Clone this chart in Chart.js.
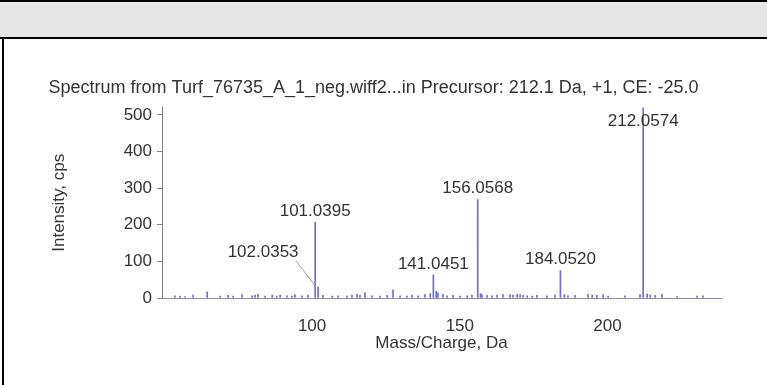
<!DOCTYPE html>
<html>
<head>
<meta charset="utf-8">
<title>Spectrum</title>
<script src="https://cdn.jsdelivr.net/npm/chart.js@4.4.1/dist/chart.umd.min.js"></script>
<style>
  html, body { margin: 0; padding: 0; background: #fff; }
  body { width: 767px; height: 385px; position: relative; overflow: hidden; }
  .topbar { position: absolute; left: 0; top: 0; width: 767px; height: 35px; background: #e6e6e6; border-top: 2px solid #000; border-bottom: 2px solid #000; }
  .leftrule { position: absolute; left: 2px; top: 39px; width: 2px; height: 346px; background: #000; }
  #wrap { position: absolute; left: 0; top: 0; width: 767px; height: 385px; }
</style>
</head>
<body>
<div class="topbar"></div>
<div class="leftrule"></div>
<div id="wrap"><canvas id="spectrum" width="767" height="385"></canvas></div>
<script>
var chartTitle = 'Spectrum from Turf_76735_A_1_neg.wiff2...in Precursor: 212.1 Da, +1, CE: -25.0';
var xTicks = [100, 150, 200];
var yTicks = [0, 100, 200, 300, 400, 500];

// labelled fragment peaks
var peakMasses = [101.0395, 102.0353, 141.0451, 156.0568, 184.0520, 212.0574];
var peakIntensities = [207, 30, 63, 269, 75, 520];
var peakNames = ['101.0395', '102.0353', '141.0451', '156.0568', '184.0520', '212.0574'];

// small baseline peaks
var noiseMasses = [
  53.6, 55.3, 57.0, 59.7, 64.5, 68.9, 71.6, 73.3, 76.3, 79.7,
  80.7, 81.7, 84.1, 86.5, 88.0, 89.2, 91.5, 93.2, 94.2, 96.6,
  98.6, 103.7, 106.8, 108.8, 111.8, 113.5, 115.2, 116.2, 117.9, 120.3,
  123.0, 125.4, 127.4, 129.8, 132.1, 133.8, 135.9, 138.2, 140.0, 142.0,
  142.6, 144.3, 145.7, 147.7, 150.1, 152.5, 154.1, 157.0, 157.5, 159.2,
  160.9, 162.6, 164.6, 167.0, 168.0, 169.4, 170.4, 171.4, 172.8, 174.5,
  176.1, 179.5, 182.2, 185.4, 186.6, 189.0, 193.4, 194.8, 196.4, 198.5,
  200.2, 205.9, 211.0, 213.4, 214.4, 216.1, 218.4, 223.5, 230.3, 232.3
];
var noiseIntensities = [
  6, 5, 4, 8, 17, 5, 7, 5, 9, 6,
  8, 10, 5, 7, 5, 8, 6, 5, 9, 6,
  8, 7, 5, 6, 5, 8, 10, 7, 14, 6,
  5, 7, 22, 6, 5, 8, 6, 9, 12, 18,
  14, 10, 6, 7, 5, 6, 8, 12, 9, 7,
  6, 8, 10, 9, 8, 10, 9, 7, 6, 5,
  7, 6, 8, 9, 6, 7, 10, 8, 7, 9,
  5, 6, 9, 11, 8, 7, 10, 4, 5, 6
];

var textColor = '#333333';
var fontFamily = '"Liberation Sans", Arial, sans-serif';

var points = [];
noiseMasses.forEach(function (m, i) { points.push({ x: m, y: noiseIntensities[i] }); });
peakMasses.forEach(function (m, i) { points.push({ x: m, y: peakIntensities[i] }); });

// where a label would collide with its neighbour it is moved aside and tied back with a leader
var labelShift = { '102.0353': { dx: -55, dy: -24 } };

var peakLabelPlugin = {
  id: 'peakLabels',
  afterDatasetsDraw: function (chart) {
    var ctx = chart.ctx, xs = chart.scales.x, ys = chart.scales.y, area = chart.chartArea;
    ctx.save();
    ctx.font = '17px ' + fontFamily;
    ctx.fillStyle = textColor;
    ctx.textAlign = 'center';
    ctx.textBaseline = 'middle';
    peakMasses.forEach(function (m, i) {
      var px = xs.getPixelForValue(m);
      var top = ys.getPixelForValue(peakIntensities[i]);
      var ly = Math.max(top - 11, area.top + 14);
      var lx = px;
      var shift = labelShift[peakNames[i]];
      if (shift) {
        lx = px + shift.dx;
        ly = top - 11 + shift.dy;
        ctx.strokeStyle = '#999999';
        ctx.lineWidth = 1;
        ctx.beginPath();
        ctx.moveTo(lx + 33, ly + 9);
        ctx.lineTo(px - 2, top);
        ctx.stroke();
      }
      ctx.fillText(peakNames[i], lx, ly);
    });
    ctx.restore();
  }
};

var font17 = { family: fontFamily, size: 17, weight: 'normal' };

new Chart(document.getElementById('spectrum'), {
  type: 'bar',
  data: {
    datasets: [{
      data: points,
      backgroundColor: 'rgba(85, 85, 215, 0.85)',
      borderWidth: 0,
      barThickness: 1
    }]
  },
  options: {
    responsive: false,
    animation: false,
    layout: { padding: { left: 26, right: 46, top: 0, bottom: 0 } },
    plugins: {
      legend: { display: false },
      tooltip: { enabled: false },
      title: {
        display: true,
        text: chartTitle,
        color: textColor,
        font: { family: fontFamily, size: 18, weight: 'normal' },
        padding: { top: 77, bottom: 9 }
      }
    },
    scales: {
      x: {
        type: 'linear',
        min: 49.2,
        max: 238.4,
        offset: false,
        afterBuildTicks: function (s) { s.ticks = xTicks.map(function (v) { return { value: v }; }); },
        afterFit: function (s) { s.height = 87; },
        grid: { display: false },
        border: { color: '#8c8cb4' },
        ticks: { padding: 10, maxRotation: 0, color: textColor, font: font17 },
        title: { display: true, text: 'Mass/Charge, Da', color: textColor, font: font17, padding: { top: 0, bottom: 31 } }
      },
      y: {
        min: 0,
        max: 520,
        afterBuildTicks: function (s) { s.ticks = yTicks.map(function (v) { return { value: v }; }); },
        afterFit: function (s) { s.width = 136; },
        grid: { drawOnChartArea: false, tickLength: 5, color: '#808080' },
        border: { color: '#808080' },
        ticks: { padding: 5, color: textColor, font: font17 },
        title: { display: true, text: 'Intensity, cps', color: textColor, font: font17, padding: { top: 23, bottom: 0 } }
      }
    }
  },
  plugins: [peakLabelPlugin]
});
</script>
</body>
</html>
